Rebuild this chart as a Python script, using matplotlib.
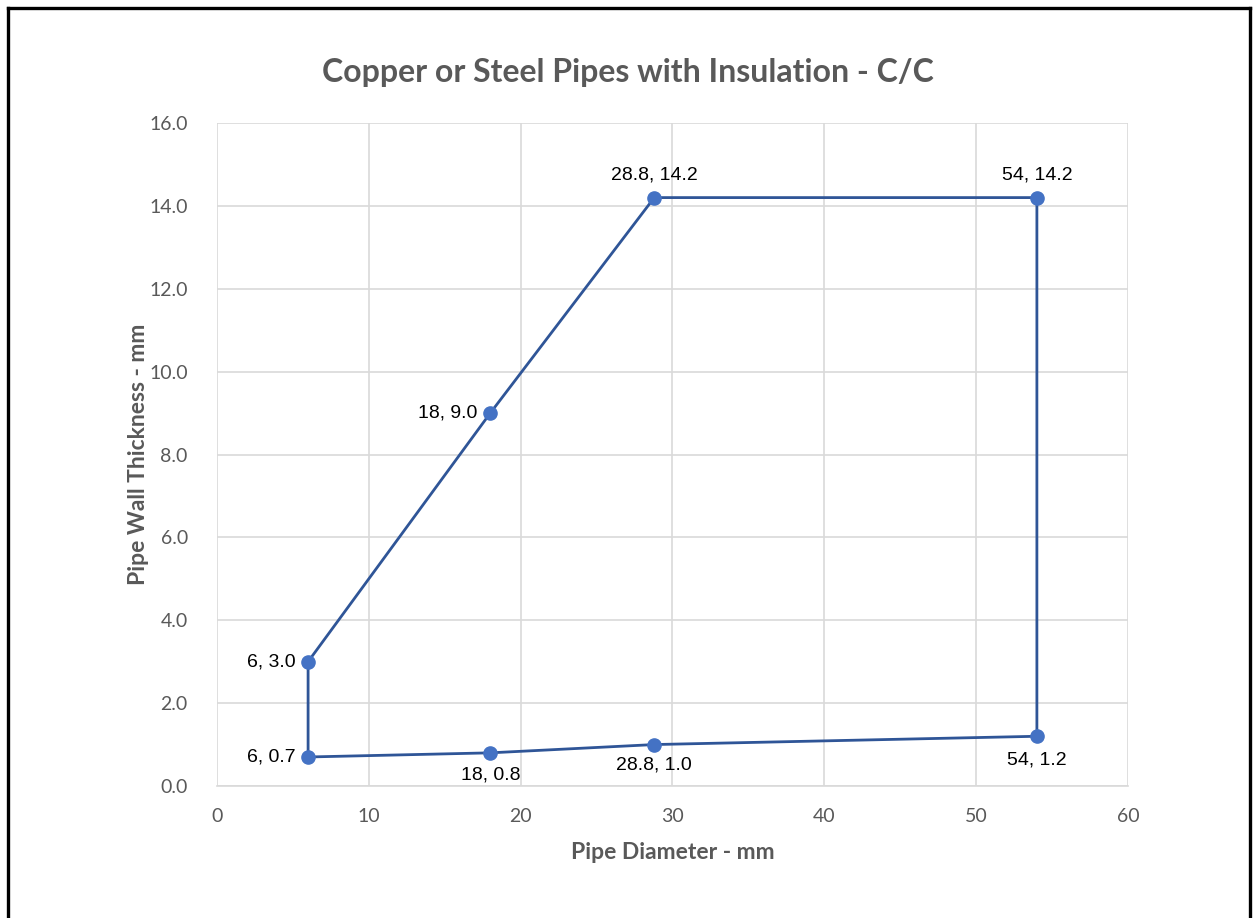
import matplotlib.pyplot as plt
from matplotlib.lines import Line2D

# Pipe diameter (mm) vs wall thickness (mm), in the order the outline is traced
diameter = [6, 18, 28.8, 54, 54, 28.8, 18, 6, 6]
thickness = [3.0, 9.0, 14.2, 14.2, 1.2, 1.0, 0.8, 0.7, 3.0]

# label placement per point: (dx, dy) in points, ha
label_pos = [
    (-9, 0, "right"),
    (-9, 0, "right"),
    (0, 16, "center"),
    (0, 16, "center"),
    (0, -17, "center"),
    (0, -15, "center"),
    (0, -16, "center"),
    (-9, 0, "right"),
]

fig = plt.figure(figsize=(12.55, 9.18), dpi=100)
ax = fig.add_axes([0.1729, 0.1438, 0.7259, 0.7222])

ax.plot(diameter, thickness, color="#2F5597", lw=2, zorder=3)
ax.plot(diameter[:-1], thickness[:-1], "o", color="#4472C4", ms=9.5, zorder=4)

for (x, y), (dx, dy, ha) in zip(zip(diameter[:-1], thickness[:-1]), label_pos):
    lbl = f"{x:g}, {y:.1f}"
    ax.annotate(lbl, (x, y), xytext=(dx, dy), textcoords="offset points",
                ha=ha, va="center", fontsize=14, family="Liberation Sans", color="#000000")

ax.set_xlim(0, 60)
ax.set_ylim(0, 16)
ax.set_xticks(range(0, 61, 10))
ax.set_yticks(range(0, 17, 2))
ax.set_yticklabels([f"{v:.1f}" for v in range(0, 17, 2)])
ax.grid(True, color="#D9D9D9", lw=1.2)
ax.set_axisbelow(True)
for side in ["top", "right", "left"]:
    ax.spines[side].set_visible(False)
ax.spines["bottom"].set_color("#D9D9D9")
ax.spines["bottom"].set_linewidth(1.2)
ax.tick_params(length=0, labelsize=14, labelcolor="#595959")
ax.tick_params(axis="x", pad=16)
ax.tick_params(axis="y", pad=21)
for t in ax.get_xticklabels() + ax.get_yticklabels():
    t.set_family("Lato")

ax.set_xlabel("Pipe Diameter - mm", fontsize=16.5, fontweight="bold", color="#595959",
              family="Lato", labelpad=12)
ax.set_ylabel("Pipe Wall Thickness - mm", fontsize=16.5, fontweight="bold", color="#595959",
              family="Lato", labelpad=0)
fig.text(0.5, 0.921, "Copper or Steel Pipes with Insulation - C/C", ha="center", va="center",
         fontsize=23, fontweight="bold", color="#595959", family="Lato")

# outer frame around the chart
fx0, fx1, fy1 = 7.5 / 1255, 1250 / 1255, 1 - 8 / 918
for xs, ys in [([fx0, fx0], [0, fy1]), ([fx0, fx1], [fy1, fy1]), ([fx1, fx1], [fy1, 0])]:
    fig.add_artist(Line2D(xs, ys, color="black", lw=2.4, transform=fig.transFigure))

fig.savefig("out.png", dpi=100, facecolor="white")
